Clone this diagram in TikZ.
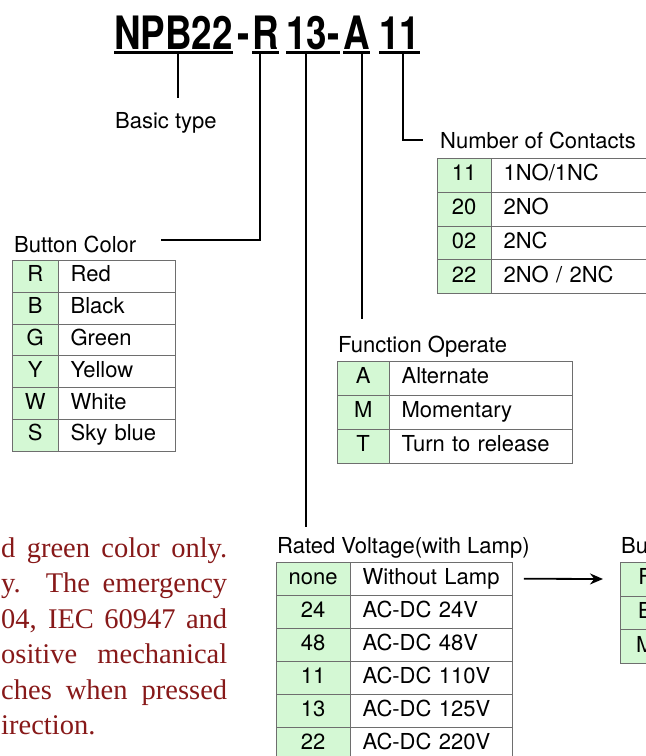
\documentclass[tikz,border=0pt]{standalone}
\usepackage{fontspec}
\setmainfont{TeX Gyre Heros}
\newfontfamily\titlefont{TeX Gyre Heros}[FakeStretch=0.8]
\newfontfamily\notefont{Liberation Serif}
\usetikzlibrary{arrows.meta}

\definecolor{codegreen}{RGB}{212,248,212}
\definecolor{tabline}{RGB}{110,110,110}
\definecolor{notered}{RGB}{135,25,25}

\tikzset{
    codecell/.style={draw=tabline, fill=codegreen, anchor=north west, inner sep=0pt, text height=16pt, text depth=4.5pt},
    desccell/.style={draw=tabline, anchor=north west, inner xsep=12pt, inner ysep=0pt, align=left, text height=16pt, text depth=4.5pt},
    hdr/.style={anchor=base west, inner sep=0pt},
    part/.style={anchor=base west, inner sep=0pt, font=\titlefont\bfseries\fontsize{46}{50}\selectfont},
    uline/.style={line width=3pt},
    lead/.style={line width=2pt},
    note/.style={anchor=base west, inner sep=0pt, text=notered, font=\notefont\fontsize{28.5}{32}\selectfont}
}

\begin{document}
\begin{tikzpicture}[x=1pt, y=-1pt, font=\fontsize{22}{26}\selectfont]
    \useasboundingbox (0,0) rectangle (646,756);
    \clip (0,0) rectangle (646,756);

    % Part number
    \node[part] (tBase) at (114,49) {NPB22};
    \node[part] (tDash) at (237,49) {-};
    \node[part] (tColor) at (252,49) {R};
    \node[part] (tVolt) at (286,49) {13-};
    \node[part] (tFunc) at (343,49) {A};
    \node[part] (tCont) at (379,49) {11};
    \foreach \p in {tBase, tColor, tVolt, tFunc, tCont}
        \draw[uline] ([yshift=-3.5pt]\p.base west) -- ([yshift=-3.5pt]\p.base east);

    % Headings
    \node[hdr] (basic) at (115,128) {Basic type};
    \node[hdr] (bchdr) at (14,252) {Button Color};
    \node[hdr] (nchdr) at (440,148) {Number of Contacts};
    \node[hdr] (fohdr) at (338,352) {Function Operate};
    \node[hdr] (rvhdr) at (277,553) {Rated Voltage(with Lamp)};
    \node[hdr] (buhdr) at (621,553) {Bu};

    % Leads
    \coordinate (lBase) at ([xshift=4pt,yshift=-5pt]tBase.base);
    \coordinate (lColor) at ([xshift=-5pt,yshift=-5pt]tColor.base);
    \coordinate (lVolt) at ([xshift=-7pt,yshift=-5pt]tVolt.base);
    \coordinate (lFunc) at ([xshift=6pt,yshift=-5pt]tFunc.base);
    \coordinate (lCont) at ([xshift=3pt,yshift=-5pt]tCont.base);
    \draw[lead, shorten >=14pt] (lBase) -- (lBase |- basic.north);
    \draw[lead, shorten >=25pt] (lColor) |- ([yshift=4pt]bchdr.east);
    \draw[lead, shorten >=10pt] (lVolt) -- (lVolt |- rvhdr.north);
    \draw[lead, shorten >=16pt] (lFunc) -- (lFunc |- fohdr.north);
    \draw[lead, shorten >=17pt] (lCont) |- (nchdr.west);

    % Button Color
    \foreach \cd/\ds [count=\i from 0] in {R/Red, B/Black, G/Green, Y/Yellow, W/White, S/Sky blue} {
        \node[codecell, minimum width=46pt, minimum height=31.8pt] (bc\i) at (12, {260+31.8*\i}) {\cd};
        \node[desccell, text width=93pt, minimum height=31.8pt] (bcd\i) at (bc\i.north east) {\ds};
    }

    % Number of Contacts
    \foreach \cd/\ds [count=\i from 0] in {11/{1NO/1NC}, 20/2NO, 02/2NC, 22/{2NO / 2NC}} {
        \node[codecell, minimum width=54pt, minimum height=33.75pt] (nc\i) at (437, {158+33.75*\i}) {\cd};
        \node[desccell, text width=236pt, minimum height=33.75pt] (ncd\i) at (nc\i.north east) {\ds};
    }

    % Function Operate
    \foreach \cd/\ds [count=\i from 0] in {A/Alternate, M/Momentary, T/Turn to release} {
        \node[codecell, minimum width=52pt, minimum height=34pt] (fo\i) at (337, {361+34*\i}) {\cd};
        \node[desccell, text width=159pt, minimum height=34pt] (fod\i) at (fo\i.north east) {\ds};
    }

    % Rated Voltage
    \foreach \cd/\ds [count=\i from 0] in {none/Without Lamp, 24/AC-DC 24V, 48/AC-DC 48V, 11/AC-DC 110V, 13/AC-DC 125V, 22/AC-DC 220V} {
        \node[codecell, minimum width=74pt, minimum height=33pt] (rv\i) at (276, {562+33*\i}) {\cd};
        \node[desccell, text width=138pt, minimum height=33pt] (rvd\i) at (rv\i.north east) {\ds};
    }

    % Bu...
    \foreach \cd [count=\i from 0] in {F, E, M}
        \node[codecell, minimum width=50pt, minimum height=33.7pt] (bu\i) at (620, {562+33.7*\i}) {\cd};

    \draw[-{Stealth[length=13pt, width=11pt]}, line width=1.8pt, shorten <=11pt, shorten >=17pt] (rvd0.east) -- (bu0.west);

    % Note
    \node[note] (n1) at (1,557) {\makebox[226pt][s]{d green color only.}};
    \node[note] (n2) at (1,592.5) {\makebox[226pt][s]{y.\ \ The emergency}};
    \node[note] (n3) at (1,628) {\makebox[226pt][s]{04, IEC 60947 and}};
    \node[note] (n4) at (1,663.5) {\makebox[226pt][s]{ositive mechanical}};
    \node[note] (n5) at (1,699) {\makebox[226pt][s]{ches when pressed}};
    \node[note] (n6) at (1,734.5) {irection.};
\end{tikzpicture}
\end{document}
